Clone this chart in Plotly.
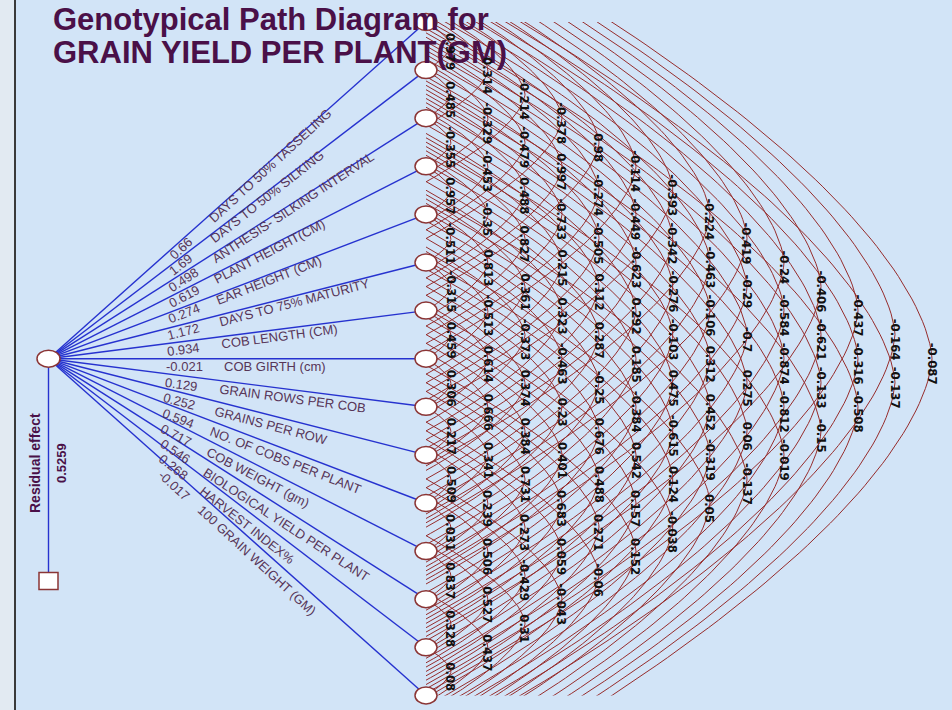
import math
import plotly.graph_objects as go

# ---------------- data ----------------
title_lines = ["Genotypical Path Diagram for", "GRAIN YIELD PER PLANT(GM)"]

traits = [
    "DAYS TO 50% TASSELING", "DAYS TO 50% SILKING", "ANTHESIS- SILKING INTERVAL",
    "PLANT HEIGHT(CM)", "EAR HEIGHT (CM)", "DAYS TO 75% MATURITY", "COB LENGTH (CM)",
    "COB GIRTH (cm)", "GRAIN ROWS PER COB", "GRAINS PER ROW", "NO. OF COBS PER PLANT",
    "COB WEIGHT (gm)", "BIOLOGICAL YIELD PER PLANT", "HARVEST INDEX%", "100 GRAIN WEIGHT (GM)",
]
direct_effects = [0.66, 1.69, 0.498, 0.619, 0.274, 1.172, 0.934, -0.021,
                  0.129, 0.252, 0.594, 0.717, 0.546, 0.268, -0.017]
residual_effect = 0.5259

# genotypic correlations between trait j and trait j+k (one list per lag k)
corr_lag1 = [0.979, 0.485, -0.355, 0.957, -0.511, -0.315, 0.459, 0.306, 0.217, 0.509, 0.031, 0.837, 0.328, 0.08]
corr_lag2 = [0.314, -0.329, -0.453, -0.35, 0.813, -0.513, 0.614, 0.666, 0.341, 0.239, 0.506, 0.527, 0.437]
corr_lag3 = [-0.214, -0.479, 0.488, 0.827, 0.361, -0.373, 0.374, 0.384, 0.731, 0.273, -0.429, 0.31]
corr_lag4 = [-0.378, 0.997, -0.733, 0.215, 0.323, -0.463, 0.23, 0.401, 0.683, 0.059, -0.043]
corr_lag5 = [0.98, -0.274, -0.505, 0.112, 0.287, -0.25, 0.676, 0.488, 0.271, -0.06]
corr_lag6 = [-0.114, -0.449, -0.623, 0.292, 0.185, -0.384, 0.542, 0.157, 0.152]
corr_lag7 = [-0.393, -0.342, -0.276, -0.103, 0.475, -0.615, 0.124, -0.038]
corr_lag8 = [-0.224, -0.463, -0.106, 0.312, 0.452, -0.319, 0.05]
corr_lag9 = [-0.419, -0.29, -0.7, 0.275, 0.06, -0.137]
corr_lag10 = [-0.24, -0.584, -0.874, -0.812, -0.019]
corr_lag11 = [-0.406, -0.621, -0.133, -0.15]
corr_lag12 = [-0.437, -0.316, -0.508]
corr_lag13 = [-0.164, -0.137]
corr_lag14 = [-0.087]
corr_by_lag = [corr_lag1, corr_lag2, corr_lag3, corr_lag4, corr_lag5, corr_lag6, corr_lag7,
               corr_lag8, corr_lag9, corr_lag10, corr_lag11, corr_lag12, corr_lag13, corr_lag14]

# ---------------- layout constants ----------------
W, H = 952, 710
BG = "#d2e4f7"
NODE_X = 426
NODE_Y0 = 22
NODE_DY = 48.1
COL_X0, COL_DX = 414, 37
HUB_X = 48.5
RES_Y = 581
ARC_COLOR = "#962c2c"
BLUE = "#2632cf"
NODE_LINE = "#8b3535"
TXT_PURPLE = "#4a1048"
LABEL_COLOR = "#573557"
ARC_POW = 1.6

n = len(traits)
node_y = [NODE_Y0 + i * NODE_DY for i in range(n)]
HUB_Y = node_y[n // 2]


def fmt(v):
    return f"{v:g}"


# approximate Arial widths (1/1000 em)
_W = {c: 556 for c in "0123456789"}
_W.update({".": 278, "-": 333, " ": 278, "%": 889, "(": 333, ")": 333})
_W.update(dict(A=667, B=667, C=722, D=722, E=667, F=611, G=778, H=722, I=278, J=500, K=667,
               L=556, M=833, N=722, O=778, P=667, Q=778, R=722, S=667, T=611, U=722, V=667,
               W=944, X=667, Y=667, Z=611, c=500, m=833, g=556))


def text_w(s, size):
    return sum(_W.get(ch, 556) for ch in s) / 1000.0 * size


fig = go.Figure()

# ---------------- correlation arcs (clipped subplot x/y) ----------------
ax, ay = [], []
for k in range(1, n):
    colx = COL_X0 + COL_DX * k
    d = colx - NODE_X
    e = max(0.0, 14.5 * k - 17)
    A = d - e
    smax = (d / A) ** (1.0 / ARC_POW)
    for j in range(n - k):
        y1, y2 = node_y[j], node_y[j + k]
        mid = (y1 + y2) / 2
        h = (y2 - y1) / 2
        m = 120
        for q in range(m + 1):
            s = -smax + 2 * smax * q / m
            ax.append(colx - A * abs(s) ** ARC_POW)
            ay.append(mid + s * h)
        ax.append(None)
        ay.append(None)

fig.add_trace(go.Scatter(x=ax, y=ay, mode="lines", line=dict(color=ARC_COLOR, width=1),
                         hoverinfo="skip", showlegend=False, xaxis="x", yaxis="y"))

# ---------------- hub lines (full canvas subplot x2/y2) ----------------
bx, by = [], []
for i in range(n):
    bx += [HUB_X, NODE_X, None]
    by += [HUB_Y, node_y[i], None]
bx += [HUB_X, HUB_X, None]
by += [HUB_Y, RES_Y, None]
fig.add_trace(go.Scatter(x=bx, y=by, mode="lines", line=dict(color=BLUE, width=1.4),
                         hoverinfo="skip", showlegend=False, xaxis="x2", yaxis="y2"))

shapes = []
shapes.append(dict(type="rect", xref="x2", yref="y2", x0=0, x1=14, y0=0, y1=H,
                   fillcolor="#e2eaf2", line=dict(width=0), layer="below"))
shapes.append(dict(type="line", xref="x2", yref="y2", x0=15, x1=15, y0=0, y1=H,
                   line=dict(color="#3a3a3a", width=2), layer="above"))
for i in range(n):
    shapes.append(dict(type="circle", xref="x2", yref="y2", x0=NODE_X - 11, x1=NODE_X + 11,
                       y0=node_y[i] - 8.5, y1=node_y[i] + 8.5, fillcolor="white",
                       line=dict(color=NODE_LINE, width=1.5), layer="above"))
shapes.append(dict(type="circle", xref="x2", yref="y2", x0=HUB_X - 11.5, x1=HUB_X + 11.5,
                   y0=HUB_Y - 8.5, y1=HUB_Y + 8.5, fillcolor="white",
                   line=dict(color=NODE_LINE, width=1.5), layer="above"))
shapes.append(dict(type="rect", xref="x2", yref="y2", x0=HUB_X - 9.5, x1=HUB_X + 9.5,
                   y0=RES_Y - 8.5, y1=RES_Y + 8.5, fillcolor="white",
                   line=dict(color=NODE_LINE, width=1.5), layer="above"))

ann = []
ann.append(dict(x=52, y=19, text=title_lines[0]))
ann.append(dict(x=52, y=52, text=title_lines[1]))
for a in ann:
    a.update(xref="x2", yref="y2", xanchor="left", yanchor="middle", showarrow=False,
             borderpad=0,
             font=dict(family="Liberation Sans, Arial", size=31, color=TXT_PURPLE, weight="bold"))

FS = 13
for i in range(n):
    dx = NODE_X - 11 - HUB_X
    dy = node_y[i] - HUB_Y
    th = math.atan2(dy, dx)
    ux, uy = math.cos(th), math.sin(th)
    nx, ny = -math.sin(th), math.cos(th)
    for txt, xs in ((fmt(direct_effects[i]), 166),
                    (traits[i], 224 - 28 * abs(math.sin(th)))):
        s = (xs - HUB_X) / ux
        w = text_w(txt, FS)
        cxp = HUB_X + ux * (s + w / 2) + nx * 8
        cyp = HUB_Y + uy * (s + w / 2) + ny * 8
        ann.append(dict(x=cxp, y=cyp, text=txt, textangle=math.degrees(th), showarrow=False,
                        xref="x2", yref="y2", xanchor="center", yanchor="middle",
                        font=dict(family="Liberation Sans, Arial", size=FS, color=LABEL_COLOR)))

for k, vals in enumerate(corr_by_lag, start=1):
    colx = COL_X0 + COL_DX * k
    for j, v in enumerate(vals):
        mid = (node_y[j] + node_y[j + k]) / 2 + 5
        ann.append(dict(x=colx, y=mid, text=fmt(v), textangle=90, showarrow=False,
                        xref="x2", yref="y2", xanchor="center", yanchor="middle",
                        font=dict(family="Liberation Sans Narrow, DejaVu Sans Condensed, Liberation Sans",
                                  size=13, color="#111111", weight="bold")))

ann.append(dict(x=35, y=463, text="Residual effect", textangle=-90, showarrow=False,
                xref="x2", yref="y2", xanchor="center", yanchor="middle",
                font=dict(family="Liberation Sans, Arial", size=14, color=TXT_PURPLE, weight="bold")))
ann.append(dict(x=61, y=463, text=fmt(residual_effect), textangle=-90, showarrow=False,
                xref="x2", yref="y2", xanchor="center", yanchor="middle",
                font=dict(family="Liberation Sans, Arial", size=13, color=TXT_PURPLE, weight="bold")))

ax_common = dict(visible=False, showgrid=False, zeroline=False, fixedrange=True)
fig.update_layout(
    width=W, height=H,
    margin=dict(l=0, r=0, t=0, b=0),
    paper_bgcolor=BG, plot_bgcolor="rgba(0,0,0,0)",
    showlegend=False,
    xaxis=dict(domain=[0, 1], range=[0, W], anchor="y", **ax_common),
    yaxis=dict(domain=[(H - node_y[-1]) / H, (H - node_y[0]) / H],
               range=[node_y[-1], node_y[0]], anchor="x", **ax_common),
    xaxis2=dict(domain=[0, 1], range=[0, W], anchor="y2", **ax_common),
    yaxis2=dict(domain=[0, 1], range=[H, 0], anchor="x2", **ax_common),
    shapes=shapes,
    annotations=ann,
)

fig.write_html("out.html", config={"displayModeBar": False},
               post_script="document.body.style.margin='0';document.body.style.overflow='hidden';")
